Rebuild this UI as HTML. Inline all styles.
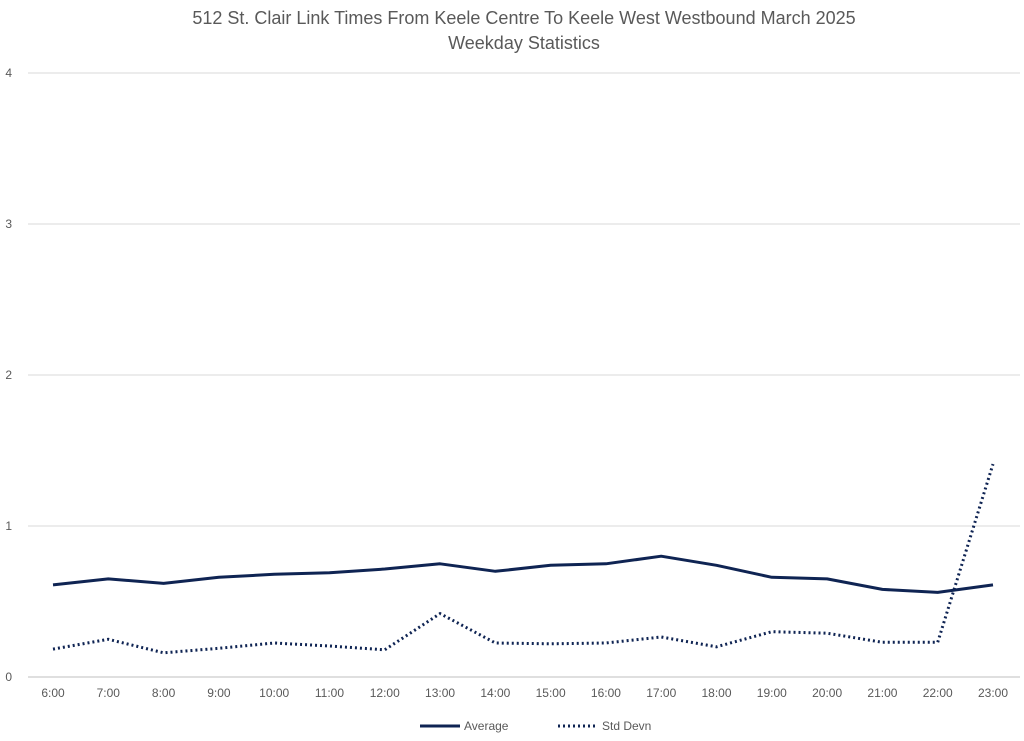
<!DOCTYPE html>
<html><head><meta charset="utf-8"><style>
html,body{margin:0;padding:0;background:#fff;}
svg{display:block;font-family:"Liberation Sans",sans-serif;}
</style></head><body>
<svg id="chart" width="1024" height="741" viewBox="0 0 1024 741">
<text x="524" y="24" text-anchor="middle" font-size="18" fill="#595959">512 St. Clair Link Times From Keele Centre To Keele West Westbound March 2025</text>
<text x="524" y="49" text-anchor="middle" font-size="18" fill="#595959">Weekday Statistics</text>
<g id="grid"></g>
<g id="yticks"></g>
<g id="xticks"></g>
<g id="series"></g>
<g>
<line x1="420" y1="726" x2="460" y2="726" stroke="#0f2453" stroke-width="3"/>
<text x="464" y="730" font-size="12" fill="#595959">Average</text>
<line x1="558" y1="726" x2="598" y2="726" stroke="#0f2453" stroke-width="3" stroke-dasharray="2,3"/>
<text x="602" y="730" font-size="12" fill="#595959">Std Devn</text>
</g>
</svg>
<script>
const categories=["6:00","7:00","8:00","9:00","10:00","11:00","12:00","13:00","14:00","15:00","16:00","17:00","18:00","19:00","20:00","21:00","22:00","23:00"];
const averageValues=[0.61,0.65,0.62,0.66,0.68,0.69,0.715,0.75,0.70,0.74,0.75,0.80,0.74,0.66,0.65,0.58,0.56,0.61];
const stdDevnValues=[0.185,0.25,0.16,0.19,0.225,0.205,0.18,0.42,0.225,0.22,0.225,0.265,0.2,0.30,0.29,0.23,0.23,1.41];
const yTicks=[0,1,2,3,4];
const NS="http://www.w3.org/2000/svg";
const x0=53,x1=993,yBase=677,yTop=73,yMax=4;
const xs=i=>x0+(x1-x0)*i/(categories.length-1);
const ys=v=>yBase-(yBase-yTop)*v/yMax;
function mk(tag,attrs,parent){const e=document.createElementNS(NS,tag);for(const k in attrs)e.setAttribute(k,attrs[k]);parent.appendChild(e);return e;}
const grid=document.getElementById('grid'),yt=document.getElementById('yticks'),xt=document.getElementById('xticks'),ser=document.getElementById('series');
yTicks.forEach(t=>{
 const l=mk('line',{x1:28,x2:1020,y1:ys(t),y2:ys(t),stroke:t===0?'#bfbfbf':'#d9d9d9','stroke-width':1},grid);
 
 
 const tx=mk('text',{x:12,y:ys(t)+4,'text-anchor':'end','font-size':12,fill:'#595959'},yt);
 tx.textContent=t;
 
 
});
categories.forEach((c,i)=>{
 const tx=mk('text',{x:xs(i),y:697,'text-anchor':'middle','font-size':12,fill:'#595959'},xt);
 tx.textContent=c;
 
 
});
const pts=a=>a.map((v,i)=>xs(i).toFixed(1)+','+ys(v).toFixed(1)).join(' ');
const avg=mk('polyline',{points:pts(averageValues),fill:'none',stroke:'#0f2453','stroke-width':3,'stroke-linejoin':'round'},ser);


const sd=mk('polyline',{points:pts(stdDevnValues),fill:'none',stroke:'#0f2453','stroke-width':3,'stroke-dasharray':'2,3'},ser);


</script>
</body></html>
